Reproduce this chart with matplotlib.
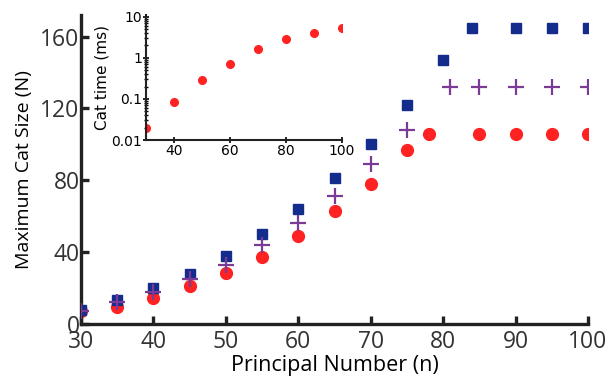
import numpy as np
import matplotlib.pyplot as plt

# main panel data
n_sq = [30, 35, 40, 45, 50, 55, 60, 65, 70, 75, 80, 84, 90, 95, 100]
size_sq = [8, 13.5, 20, 28, 38, 50, 64, 81, 100, 122, 147, 165, 165, 165, 165]

n_plus = [30, 35, 40, 45, 50, 55, 60, 65, 70, 75, 81, 85, 90, 95, 100]
size_plus = [7, 12, 18, 25, 33, 44, 56, 71, 89, 108, 132, 132, 132, 132, 132]

n_circ = [30, 35, 40, 45, 50, 55, 60, 65, 70, 75, 78, 85, 90, 95, 100]
size_circ = [7, 9.5, 14.5, 21, 28.5, 37.5, 49, 63, 78, 97, 106, 106, 106, 106, 106]

# inset data
n_time = [30, 40, 50, 60, 70, 80, 90, 100]
cat_time = [0.02, 0.085, 0.29, 0.71, 1.6, 2.8, 4.0, 5.4]

blue = "#142d8c"
purple = "#7b3a96"
red = "#ff2222"
grey = "#333333"

fig = plt.figure(figsize=(6.1, 3.77), dpi=100)
ax = fig.add_axes([81 / 610, 1 - 324 / 377, (588 - 81) / 610, (324 - 15) / 377])

ax.plot(n_sq, size_sq, ls="none", marker="s", ms=7, color=blue, zorder=3)
ax.plot(n_plus, size_plus, ls="none", marker="+", ms=11, mew=1.6, color=purple, zorder=4)
ax.plot(n_circ, size_circ, ls="none", marker="o", ms=8.5, color=red, zorder=2)

ax.set_xlim(30, 100)
ax.set_ylim(0, 172)
ax.set_xticks([30, 40, 50, 60, 70, 80, 90, 100])
ax.set_yticks([0, 40, 80, 120, 160])
for s in ["top", "right"]:
    ax.spines[s].set_visible(False)
for s in ["left", "bottom"]:
    ax.spines[s].set_linewidth(2.4)
    ax.spines[s].set_color("#222222")
ax.tick_params(direction="in", length=6, width=2.4, color="#222222",
               labelsize=16.5, labelcolor=grey)
ax.tick_params(axis="x", pad=4)
ax.tick_params(axis="y", pad=1)
ax.set_xlabel("Principal Number (n)", fontsize=15.5, family="Open Sans", labelpad=1)
ax.set_ylabel("Maximum Cat Size (N)", fontsize=14, family="Open Sans", labelpad=5)
for lab in ax.get_xticklabels() + ax.get_yticklabels():
    lab.set_family("Open Sans")

# inset
ins = fig.add_axes([146 / 610, 1 - 140 / 377, (342 - 146) / 610, (140 - 15) / 377])
ins.plot(n_time, cat_time, ls="none", marker="o", ms=5.5, color=red)
ins.set_yscale("log")
ins.set_xlim(30, 100)
ins.set_ylim(0.01, 11)
ins.set_xticks([40, 60, 80, 100])
ins.set_yticks([0.01, 0.1, 1, 10])
ins.set_yticklabels(["0.01", "0.1", "1", "10"])
for s in ["top", "right"]:
    ins.spines[s].set_visible(False)
for s in ["left", "bottom"]:
    ins.spines[s].set_linewidth(1.5)
    ins.spines[s].set_color("#222222")
ins.tick_params(which="both", direction="inout", length=4, width=1.2, labelsize=10, pad=1)
ins.tick_params(which="minor", length=3, width=1)
ins.set_ylabel("Cat time (ms)", fontsize=11, labelpad=1)
ins.patch.set_alpha(0)

fig.savefig("out.png", dpi=100)
